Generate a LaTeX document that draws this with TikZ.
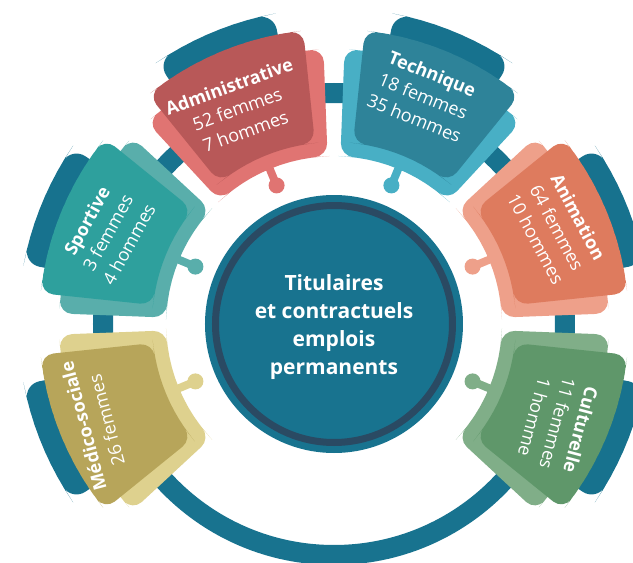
\documentclass[tikz,border=0pt]{standalone}
\usepackage{fontspec}
\setmainfont{Open Sans}
\definecolor{backteal}{HTML}{17728E}
\definecolor{ringteal}{HTML}{18738F}
\definecolor{darkring}{HTML}{2A4A63}
\definecolor{admmain}{HTML}{B85858}
\definecolor{admlight}{HTML}{E07472}
\definecolor{tecmain}{HTML}{2E8399}
\definecolor{teclight}{HTML}{48AFC5}
\definecolor{animain}{HTML}{DE7B5E}
\definecolor{anilight}{HTML}{EEA08A}
\definecolor{culmain}{HTML}{5F976A}
\definecolor{cullight}{HTML}{80AE88}
\definecolor{medmain}{HTML}{B7A55A}
\definecolor{medlight}{HTML}{DED18E}
\definecolor{spomain}{HTML}{2EA09D}
\definecolor{spolight}{HTML}{59AEAB}
\newcommand\mypiece[3]{%
  \pgfmathsetmacro\pa{#1-11.5}\pgfmathsetmacro\pb{#1+11.5}%
  \fill[backteal, rounded corners=16pt] plot[domain=\pa:\pb, samples=10] (\x:316) -- plot[domain=\pb:\pa, samples=10] (\x:205) -- cycle;
  \pgfmathsetmacro\pa{#1-20.3}\pgfmathsetmacro\pb{#1+20.3}%
  \fill[#3, rounded corners=13pt] plot[domain=\pa:\pb, samples=12] (\x:275) -- plot[domain=\pb:\pa, samples=12] (\x:168) -- cycle;
  \fill[#3] (#1:150) circle (8);
  \draw[#3, line width=8pt] (#1:150) -- (#1:172);
  \pgfmathsetmacro\pa{#1-16.5}\pgfmathsetmacro\pb{#1+16.5}%
  \fill[#2, rounded corners=13pt] plot[domain=\pa:\pb, samples=12] (\x:295) -- plot[domain=\pb:\pa, samples=12] (\x:182) -- cycle;
}
\tikzset{
  lbl/.style={text=white, align=center, inner sep=0pt, font=\fontsize{18}{24}\selectfont},
  ctr/.style={text=white, align=center, font=\fontsize{21}{28}\selectfont\bfseries}
}
\begin{document}
\begin{tikzpicture}[x=1pt,y=1pt]
\useasboundingbox (-334,-239) rectangle (299,324);
\clip (-334,-239) rectangle (299,324);
\draw[ringteal, line width=20pt] (0,0) circle (231);
\mypiece{112.5}{admmain}{admlight}
\mypiece{67.5}{tecmain}{teclight}
\mypiece{22.5}{animain}{anilight}
\mypiece{-22.5}{culmain}{cullight}
\mypiece{202.5}{medmain}{medlight}
\mypiece{157.5}{spomain}{spolight}
\node[lbl, rotate=20] (adm) at (114.2:236) {\textbf{Administrative}\\52 femmes\\7 hommes};
\node[lbl, rotate=-22] (tec) at (68.6:245) {\textbf{Technique}\\18 femmes\\35 hommes};
\node[lbl, rotate=-62] (ani) at (23.3:243) {\textbf{Animation}\\64 femmes\\10 hommes};
\node[lbl, rotate=-105] (cul) at (-24:245) {\textbf{Culturelle}\\11 femmes\\1 homme};
\node[lbl, rotate=105] (med) at (202.5:259) {\textbf{Médico-sociale}\\26 femmes};
\node[lbl, rotate=61] (spo) at (158:244) {\textbf{Sportive}\\3 femmes\\4 hommes};
\node[circle, fill=ringteal, minimum size=258pt, inner sep=0pt] (center) at (0,0) {};
\draw[darkring, line width=7pt] (center.center) circle (118.5);
\node[ctr] (ctext) at (0,-3) {Titulaires\\et contractuels\\emplois\\permanents};
\end{tikzpicture}
\end{document}
